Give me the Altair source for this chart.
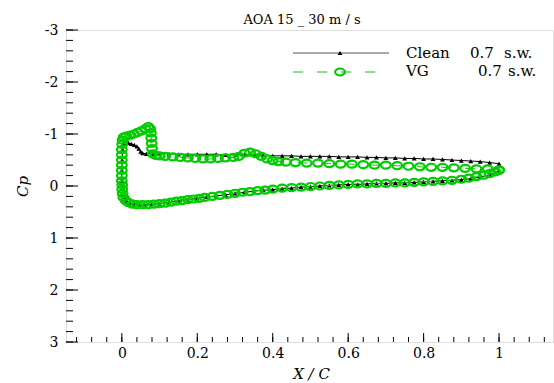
import altair as alt
import pandas as pd

# ---------------- data ----------------
# Clean 0.7 s.w. : upper surface (TE -> LE), then lower surface (LE -> TE)
clean_upper_x = [1.000, 0.975, 0.950, 0.925, 0.900, 0.875, 0.850, 0.825, 0.800, 0.775,
                 0.750, 0.725, 0.700, 0.675, 0.650, 0.625, 0.600, 0.575, 0.550, 0.525,
                 0.500, 0.475, 0.450, 0.425, 0.400, 0.375, 0.350, 0.325, 0.300, 0.275,
                 0.250, 0.225, 0.200, 0.175, 0.150, 0.125, 0.100, 0.080, 0.065, 0.055,
                 0.050, 0.045, 0.040, 0.033, 0.025, 0.017, 0.010, 0.005, 0.002, 0.001,
                 0.000, 0.000, 0.001, 0.003]
clean_upper_cp = [-0.43, -0.45, -0.47, -0.48, -0.49, -0.50, -0.51, -0.52, -0.52, -0.53,
                  -0.53, -0.54, -0.54, -0.55, -0.55, -0.56, -0.56, -0.56, -0.57, -0.57,
                  -0.57, -0.57, -0.58, -0.58, -0.58, -0.59, -0.60, -0.60, -0.60, -0.60,
                  -0.61, -0.61, -0.61, -0.61, -0.61, -0.62, -0.62, -0.62, -0.62, -0.63,
                  -0.66, -0.72, -0.76, -0.79, -0.81, -0.83, -0.84, -0.82, -0.70, -0.50,
                  -0.30, -0.10, 0.05, 0.15]
clean_lower_x = [0.006, 0.012, 0.020, 0.030, 0.045, 0.060, 0.080, 0.100, 0.125, 0.150,
                 0.175, 0.200, 0.225, 0.250, 0.275, 0.300, 0.325, 0.350, 0.375, 0.400,
                 0.425, 0.450, 0.475, 0.500, 0.525, 0.550, 0.575, 0.600, 0.625, 0.650,
                 0.675, 0.700, 0.725, 0.750, 0.775, 0.800, 0.825, 0.850, 0.875, 0.900,
                 0.925, 0.950, 0.975, 1.000]
clean_lower_cp = [0.22, 0.28, 0.32, 0.34, 0.35, 0.36, 0.35, 0.34, 0.31, 0.29,
                  0.26, 0.24, 0.21, 0.19, 0.17, 0.14, 0.12, 0.10, 0.08, 0.07,
                  0.05, 0.04, 0.02, 0.01, 0.00, -0.01, -0.02, -0.03, -0.03, -0.04,
                  -0.05, -0.05, -0.06, -0.06, -0.07, -0.08, -0.09, -0.10, -0.11, -0.12,
                  -0.14, -0.17, -0.22, -0.30]

# VG 0.7 s.w. : upper surface (TE -> LE), then lower surface (LE -> TE)
vg_upper_x = [1.000, 0.970, 0.940, 0.910, 0.880, 0.850, 0.820, 0.790, 0.760, 0.730,
              0.700, 0.670, 0.640, 0.610, 0.580, 0.550, 0.520, 0.490, 0.460, 0.435,
              0.415, 0.400, 0.385, 0.370, 0.355, 0.340, 0.325, 0.310, 0.295, 0.275,
              0.255, 0.235, 0.215, 0.195, 0.175, 0.155, 0.135, 0.115, 0.100, 0.090,
              0.082, 0.080, 0.079, 0.078, 0.077, 0.075, 0.070, 0.062, 0.052, 0.042,
              0.032, 0.022, 0.012, 0.005, 0.002, 0.001, 0.000, 0.000, 0.000, 0.000,
              0.000, 0.000, 0.000, 0.001, 0.001, 0.002]
vg_upper_cp = [-0.31, -0.33, -0.33, -0.34, -0.35, -0.36, -0.36, -0.37, -0.38, -0.39,
               -0.40, -0.40, -0.41, -0.42, -0.42, -0.43, -0.44, -0.44, -0.45, -0.46,
               -0.47, -0.49, -0.52, -0.57, -0.62, -0.65, -0.63, -0.57, -0.55, -0.54,
               -0.53, -0.52, -0.52, -0.53, -0.54, -0.55, -0.56, -0.57, -0.58, -0.59,
               -0.62, -0.72, -0.82, -0.92, -1.02, -1.10, -1.14, -1.10, -1.06, -1.03,
               -1.00, -0.98, -0.96, -0.94, -0.88, -0.80, -0.70, -0.60, -0.50, -0.40,
               -0.30, -0.20, -0.10, -0.02, 0.06, 0.14]
vg_lower_x = [0.004, 0.010, 0.018, 0.028, 0.040, 0.055, 0.070, 0.085, 0.100, 0.115,
              0.130, 0.145, 0.160, 0.175, 0.190, 0.205, 0.220, 0.240, 0.260, 0.280,
              0.300, 0.320, 0.340, 0.360, 0.380, 0.400, 0.425, 0.450, 0.475, 0.500,
              0.525, 0.550, 0.575, 0.600, 0.625, 0.650, 0.675, 0.700, 0.725, 0.750,
              0.775, 0.800, 0.825, 0.850, 0.875, 0.900, 0.920, 0.940, 0.960, 0.975,
              0.990, 1.000]
vg_lower_cp = [0.22, 0.28, 0.32, 0.35, 0.36, 0.36, 0.36, 0.35, 0.34, 0.33,
               0.31, 0.29, 0.28, 0.26, 0.25, 0.24, 0.22, 0.20, 0.18, 0.16,
               0.14, 0.12, 0.11, 0.09, 0.08, 0.06, 0.04, 0.03, 0.02, 0.01,
               0.00, -0.01, -0.02, -0.03, -0.04, -0.04, -0.05, -0.05, -0.06, -0.06,
               -0.07, -0.08, -0.09, -0.10, -0.11, -0.13, -0.15, -0.18, -0.21, -0.24,
               -0.27, -0.30]

# tick labels / positions
x_major = [0, 0.2, 0.4, 0.6, 0.8, 1]
x_minor = [round(-0.12 + 0.04 * i, 2) for i in range(32)]
y_major = [-3, -2, -1, 0, 1, 2, 3]
y_minor = [round(-3 + 0.2 * i, 1) for i in range(31)]

legend_labels = ["Clean", "0.7", "s.w.", "VG", "0.7", "s.w."]
title_text = "AOA 15 _ 30  m / s"


def path_df(ux, ucp, lx, lcp):
    xs = list(ux) + list(lx)
    cps = list(ucp) + list(lcp)
    return pd.DataFrame({"x": xs, "cp": cps, "order": list(range(len(xs)))})


clean = path_df(clean_upper_x, clean_upper_cp, clean_lower_x, clean_lower_cp)
vg = path_df(vg_upper_x, vg_upper_cp, vg_lower_x, vg_lower_cp)

W, H = 487, 312
FONT = "DejaVu Serif"
GREEN = "#00cc00"
ELLIPSE = "M -1 0 A 1 0.72 0 1 0 1 0 A 1 0.72 0 1 0 -1 0 Z"
LABEL_EXPR = "replace('' + datum.value, '\u2212', '-')"

xscale = alt.Scale(domain=[-0.148, 1.143], nice=False, zero=False)
yscale = alt.Scale(domain=[-3, 3], reverse=True, nice=False, zero=False)

X = alt.X(
    "x:Q", scale=xscale,
    axis=alt.Axis(values=x_major, ticks=False, domain=False, grid=False,
                  labelFont=FONT, labelFontSize=14, labelColor="black",
                  labelPadding=4, labelFlush=False, labelOverlap=False,
                  labelExpr=LABEL_EXPR,
                  title="X / C", titleFont=FONT, titleFontSize=15,
                  titleFontStyle="italic", titleFontWeight="normal",
                  titleColor="black", titleX=245, titleY=31,
                  titleAlign="center", titleBaseline="middle"),
)
Y = alt.Y(
    "cp:Q", scale=yscale,
    axis=alt.Axis(values=y_major, ticks=False, domain=False, grid=False,
                  labelFont=FONT, labelFontSize=14, labelColor="black",
                  labelPadding=8, labelFlush=False, labelOverlap=False,
                  labelExpr=LABEL_EXPR,
                  title="Cp", titleFont=FONT, titleFontSize=15,
                  titleFontStyle="italic", titleFontWeight="normal",
                  titleColor="black", titleX=-44, titleY=156, titleAngle=270,
                  titleAlign="center", titleBaseline="middle"),
)

# curves
clean_line = alt.Chart(clean).mark_line(color="black", strokeWidth=1).encode(
    x=X, y=Y, order=alt.Order("order:Q"))
clean_pts = alt.Chart(clean).mark_point(shape="triangle-up", filled=True, color="black",
                                        size=24, opacity=1).encode(x=X, y=Y)
vg_line = alt.Chart(vg).mark_line(color=GREEN, strokeWidth=1, strokeDash=[10, 14]).encode(
    x=X, y=Y, order=alt.Order("order:Q"))
vg_pts = alt.Chart(vg).mark_point(shape=ELLIPSE, filled=False, color=GREEN,
                                  strokeWidth=2.2, size=95, opacity=1).encode(x=X, y=Y)

# inward ticks
xmaj = alt.Chart(pd.DataFrame({"x": x_major})).mark_rule(color="black", strokeWidth=1).encode(
    x=X, y=alt.value(H), y2=alt.value(H - 9))
xmin = alt.Chart(pd.DataFrame({"x": x_minor})).mark_rule(color="black", strokeWidth=1).encode(
    x=X, y=alt.value(H), y2=alt.value(H - 5))
ymaj = alt.Chart(pd.DataFrame({"cp": y_major})).mark_rule(color="black", strokeWidth=1).encode(
    y=Y, x=alt.value(0), x2=alt.value(12))
ymin = alt.Chart(pd.DataFrame({"cp": y_minor})).mark_rule(color="black", strokeWidth=1).encode(
    y=Y, x=alt.value(0), x2=alt.value(7))

one = pd.DataFrame({"a": [0]})

# legend
leg_clean_line = alt.Chart(one).mark_rule(color="#555555", strokeWidth=1).encode(
    x=alt.value(227), x2=alt.value(323), y=alt.value(23))
leg_clean_pt = alt.Chart(one).mark_point(shape="triangle-up", filled=True, color="black",
                                         size=24, opacity=1).encode(
    x=alt.value(274), y=alt.value(23))
leg_vg_line = alt.Chart(one).mark_rule(color=GREEN, strokeWidth=1, strokeDash=[10, 14]).encode(
    x=alt.value(227), x2=alt.value(318), y=alt.value(42))
leg_vg_pt = alt.Chart(one).mark_point(shape=ELLIPSE, filled=False, color=GREEN,
                                      strokeWidth=2.2, size=95, opacity=1).encode(
    x=alt.value(274), y=alt.value(42))

leg_pos = [(340, 28), (404, 28), (438, 28), (340, 46), (412, 46), (442, 46)]
leg_texts = [
    alt.Chart(one).mark_text(font=FONT, fontSize=15, color="black", align="left",
                             baseline="alphabetic").encode(
        x=alt.value(px), y=alt.value(py), text=alt.value(lbl))
    for lbl, (px, py) in zip(legend_labels, leg_pos)
]

title = alt.Chart(one).mark_text(font=FONT, fontSize=13, color="black", align="center",
                                 baseline="alphabetic").encode(
    x=alt.value(236), y=alt.value(-6), text=alt.value(title_text))

chart = alt.layer(
    clean_line, clean_pts, vg_line, vg_pts,
    xmaj, xmin, ymaj, ymin,
    leg_clean_line, leg_clean_pt, leg_vg_line, leg_vg_pt, *leg_texts, title,
).properties(
    width=W, height=H,
    padding={"left": 66, "top": 30, "right": 1, "bottom": 41},
    autosize=alt.AutoSizeParams(type="none"),
    background="white",
).configure_view(stroke="black", strokeWidth=2).configure(font=FONT)

chart.save("out.html", embed_options={"renderer": "svg", "actions": False})
